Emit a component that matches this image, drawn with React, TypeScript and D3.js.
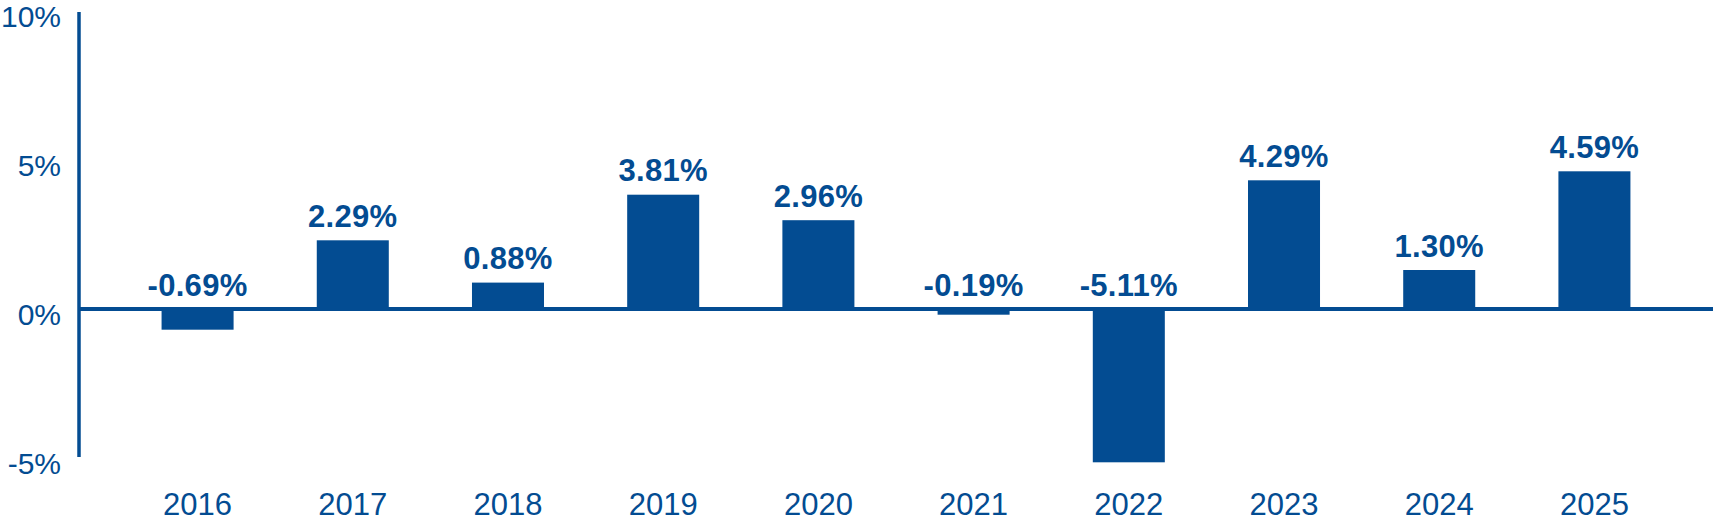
import React, { useEffect, useRef } from 'react';
import * as d3 from 'd3';

const years = ['2016', '2017', '2018', '2019', '2020', '2021', '2022', '2023', '2024', '2025'];
const returns = [-0.69, 2.29, 0.88, 3.81, 2.96, -0.19, -5.11, 4.29, 1.3, 4.59];
const yTicks = [-5, 0, 5, 10];

const WIDTH = 1713;
const HEIGHT = 522;
const BLUE = '#034c92';
const FONT = '"Liberation Sans", Arial, Helvetica, sans-serif';

const App: React.FC = () => {
  const svgRef = useRef<SVGSVGElement>(null);

  useEffect(() => {
    if (!svgRef.current) return;
    const svg = d3.select(svgRef.current);
    svg.selectAll('*').remove();

    const axisX = 79;

    const x = d3.scaleBand<string>()
      .domain(years)
      .range([axisX, WIDTH])
      .paddingInner(0.536)
      .paddingOuter(0.532);

    const y = d3.scaleLinear()
      .domain([-5, 10])
      .range([459, 9]);

    // tick labels sit a little below their values (baseline positions)
    const yLabel = d3.scaleLinear()
      .domain([-5, 10])
      .range([473.5, 27]);

    const data = years.map((year, i) => ({ year, value: returns[i] }));

    // bars
    svg.append('g')
      .selectAll('rect')
      .data(data)
      .enter()
      .append('rect')
      .attr('x', d => x(d.year)!)
      .attr('width', x.bandwidth())
      .attr('y', d => y(Math.max(0, d.value)))
      .attr('height', d => Math.abs(y(d.value) - y(0)))
      .attr('fill', BLUE);

    // y axis line
    svg.append('line')
      .attr('x1', axisX)
      .attr('x2', axisX)
      .attr('y1', y(10) + 3)
      .attr('y2', y(-5) - 2)
      .attr('stroke', BLUE)
      .attr('stroke-width', 3.5);

    // zero line
    svg.append('line')
      .attr('x1', axisX)
      .attr('x2', WIDTH)
      .attr('y1', y(0))
      .attr('y2', y(0))
      .attr('stroke', BLUE)
      .attr('stroke-width', 4);

    // y tick labels
    svg.append('g')
      .selectAll('text')
      .data(yTicks)
      .enter()
      .append('text')
      .attr('x', 61)
      .attr('y', d => yLabel(d))
      .attr('text-anchor', 'end')
      .style('font-family', FONT)
      .style('font-size', '30px')
      .style('fill', BLUE)
      .text(d => `${d}%`);

    // value labels
    svg.append('g')
      .selectAll('text')
      .data(data)
      .enter()
      .append('text')
      .attr('x', d => x(d.year)! + x.bandwidth() / 2)
      .attr('y', d => y(Math.max(0, d.value)) - 13.5)
      .attr('text-anchor', 'middle')
      .style('font-family', FONT)
      .style('font-size', '31px')
      .style('font-weight', 'bold')
      .style('letter-spacing', '0.3px')
      .style('fill', BLUE)
      .text(d => `${d.value.toFixed(2)}%`);

    // category labels
    svg.append('g')
      .selectAll('text')
      .data(data)
      .enter()
      .append('text')
      .attr('x', d => x(d.year)! + x.bandwidth() / 2)
      .attr('y', 515)
      .attr('text-anchor', 'middle')
      .style('font-family', FONT)
      .style('font-size', '31px')
      .style('fill', BLUE)
      .text(d => d.year);
  }, []);

  return (
    <svg
      ref={svgRef}
      width={WIDTH}
      height={HEIGHT}
      style={{ position: 'absolute', left: 0, top: 0, background: '#fff' }}
    />
  );
};

export default App;
